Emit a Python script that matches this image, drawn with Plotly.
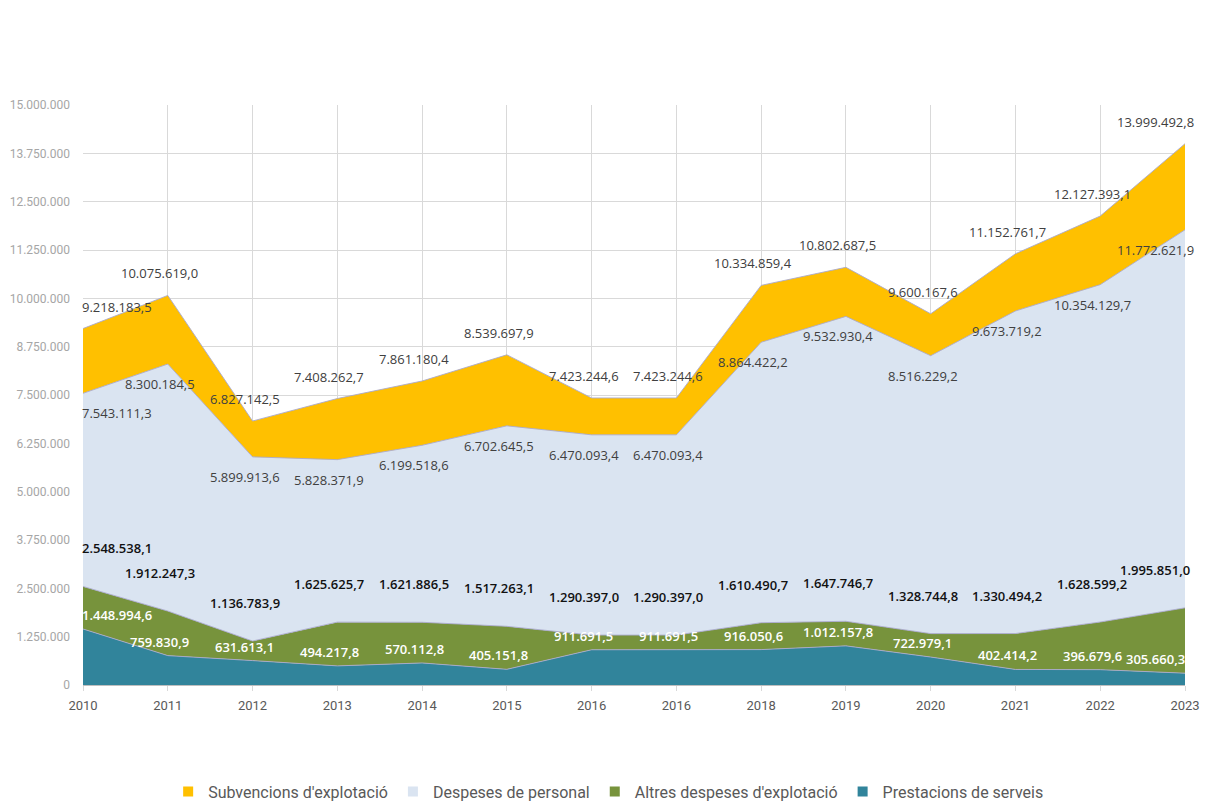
import plotly.graph_objects as go

years = ["2010", "2011", "2012", "2013", "2014", "2015", "2016", "2016",
         "2018", "2019", "2020", "2021", "2022", "2023"]

# Cumulative levels as labelled on the chart (top edge of each stacked band)
prestacions = [1448994.6, 759830.9, 631613.1, 494217.8, 570112.8, 405151.8, 911691.5,
               911691.5, 916050.6, 1012157.8, 722979.1, 402414.2, 396679.6, 305660.3]
altres_cum = [2548538.1, 1912247.3, 1136783.9, 1625625.7, 1621886.5, 1517263.1, 1290397.0,
              1290397.0, 1610490.7, 1647746.7, 1328744.8, 1330494.2, 1628599.2, 1995851.0]
personal_cum = [7543111.3, 8300184.5, 5899913.6, 5828371.9, 6199518.6, 6702645.5, 6470093.4,
                6470093.4, 8864422.2, 9532930.4, 8516229.2, 9673719.2, 10354129.7, 11772621.9]
subvencions_cum = [9218183.5, 10075619.0, 6827142.5, 7408262.7, 7861180.4, 8539697.9, 7423244.6,
                   7423244.6, 10334859.4, 10802687.5, 9600167.6, 11152761.7, 12127393.1, 13999492.8]

names = ["Prestacions de serveis", "Altres despeses d'explotació",
         "Despeses de personal", "Subvencions d'explotació"]
colors = ["#31849B", "#77933C", "#DAE4F1", "#FFC000"]
series = [prestacions, altres_cum, personal_cum, subvencions_cum]

x = list(range(len(years)))
edge = "rgba(170,170,205,0.9)"

fig = go.Figure()
for i, (nm, col, vals) in enumerate(zip(names, colors, series)):
    fig.add_trace(go.Scatter(
        x=x, y=vals, name=nm, mode="lines",
        line=dict(color=edge, width=1),
        fill="tozeroy" if i == 0 else "tonexty",
        fillcolor=col, hoverinfo="skip", showlegend=False,
    ))
# legend entries with square swatches
for nm, col in zip(names, colors):
    fig.add_trace(go.Scatter(
        x=[None], y=[None], name=nm, mode="markers",
        marker=dict(symbol="square", size=10, color=col),
        hoverinfo="skip",
    ))


def fmt(v):
    s = f"{v:,.1f}"
    return s.replace(",", "X").replace(".", ",").replace("X", ".")


label_style = [
    # (series, yshift, font color, weight)
    (prestacions, 14, "#FFFFFF", 600),
    (altres_cum, 38, "#111111", 600),
    (personal_cum, -20, "#404040", 400),
    (subvencions_cum, 22, "#404040", 400),
]
n = len(years)
for vals, ys, fc, w in label_style:
    for i, v in enumerate(vals):
        xs = 34 if i == 0 else (-30 if i == n - 1 else -8)
        fig.add_annotation(
            x=i, y=v, text=fmt(v), showarrow=False,
            xshift=xs, yshift=ys,
            font=dict(family="Open Sans", size=13, color=fc, weight=w),
        )

fig.update_layout(
    width=1207, height=795,
    margin=dict(l=75, r=30, t=97, b=118, autoexpand=False),
    paper_bgcolor="white", plot_bgcolor="white",
    separators=",.",
    showlegend=True,
    legend=dict(orientation="h", x=0.477, xanchor="center", y=-0.184, yanchor="middle",
                traceorder="reversed", font=dict(family="Roboto", size=16, color="#595959"),
                itemwidth=30),
    font=dict(family="Roboto"),
)
fig.update_xaxes(
    tickmode="array", tickvals=x, ticktext=years, range=[0, n - 1],
    showgrid=True, gridcolor="#D9D9D9", gridwidth=1,
    showline=True, linecolor="#BFBFBF", linewidth=1,
    ticks="outside", ticklen=5, tickcolor="#D9D9D9",
    tickfont=dict(family="Roboto", size=13, color="#595959"),
    ticklabelstandoff=3,
    zeroline=False,
)
fig.update_yaxes(
    range=[0, 15000000], tickmode="linear", tick0=0, dtick=1250000,
    tickformat=",d",
    showgrid=True, gridcolor="#D9D9D9", gridwidth=1,
    zeroline=False,
    tickfont=dict(family="Roboto", size=12, color="#A6A6A6"),
    ticks="", ticklabelstandoff=12,
)

fig.write_html("out.html")
